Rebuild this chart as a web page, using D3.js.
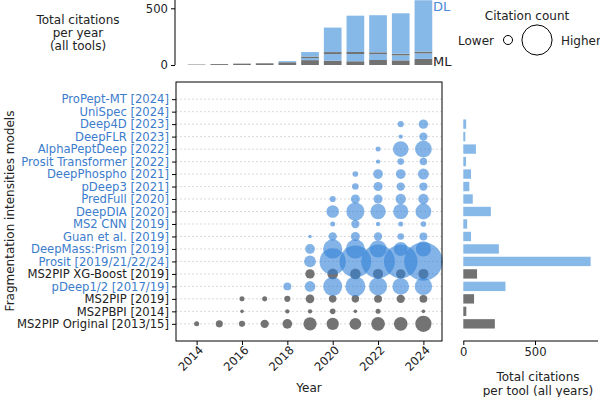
<!DOCTYPE html>
<html><head><meta charset="utf-8">
<script src="https://cdn.jsdelivr.net/npm/d3@7"></script>
<style>body{margin:0;background:#fff}svg{font-family:"DejaVu Sans",sans-serif}</style>
</head><body><svg id="c" width="600" height="397"></svg>
<script>
const years = [2014,2015,2016,2017,2018,2019,2020,2021,2022,2023,2024];
const xTicks = [2014,2016,2018,2020,2022,2024];
// tools listed bottom -> top
const tools = ["MS2PIP Original [2013/15]","MS2PBPI [2014]","MS2PIP [2019]","pDeep1/2 [2017/19]","MS2PIP XG-Boost [2019]","Prosit [2019/21/22/24]","DeepMass:Prism [2019]","Guan et al. [2019]","MS2 CNN [2019]","DeepDIA [2020]","PredFull [2020]","pDeep3 [2021]","DeepPhospho [2021]","Prosit Transformer [2022]","AlphaPeptDeep [2022]","DeepFLR [2023]","Deep4D [2023]","UniSpec [2024]","ProPept-MT [2024]"];
const toolType = ["ML","ML","ML","DL","ML","DL","DL","DL","DL","DL","DL","DL","DL","DL","DL","DL","DL","DL","DL"];
const citations = [
 [4,8,6,11,15,28,24,22,30,30,42],
 [0,0,2,0,3,3,5,2,4,0,2],
 [0,0,4,4,6,12,9,9,10,11,10],
 [0,0,0,0,10,18,58,64,52,44,48],
 [0,0,0,0,0,14,18,18,16,14,16],
 [0,0,0,0,0,22,111,160,180,180,235],
 [0,0,0,0,0,15,59,59,47,31,37],
 [0,0,0,0,0,2,11,13,11,7,10],
 [0,0,0,0,0,0,4,11,3,4,5],
 [0,0,0,0,0,0,25,52,38,37,40],
 [0,0,0,0,0,0,6,13,13,17,17],
 [0,0,0,0,0,0,0,7,13,11,11],
 [0,0,0,0,0,0,0,5,15,15,19],
 [0,0,0,0,0,0,0,0,3,7,9],
 [0,0,0,0,0,0,0,0,4,39,45],
 [0,0,0,0,0,0,0,0,0,3,11],
 [0,0,0,0,0,0,0,0,0,6,14],
 [0,0,0,0,0,0,0,0,0,0,0],
 [0,0,0,0,0,0,0,0,0,0,0]
];
const legendCounts = [13,145];
const topTicks = [0,500];
const rightTicks = [0,500];

const COL = {DL:"rgb(50,130,215)", ML:"#6c6c6c"};
const BAR = {DL:"#86b8e8", ML:"#727272"};
const LBL = {DL:"#3c7ccc", ML:"#222"};
const FS = 11.6, TS = 12;

const svg = d3.select("#c");
const x = d3.scaleLinear().domain([2013.09,2024.82]).range([176,442]);
const y = d3.scaleLinear().domain([-1.375,18+1.375]).range([341,82]);
const r = d3.scaleSqrt().domain([0,235]).range([0,19.2]);
const yTop = d3.scaleLinear().domain([0,500]).range([65,8.3]);
const xR = d3.scaleLinear().domain([0,500]).range([463.3,535]);

// grid
svg.append("g").selectAll("line").data(tools).join("line")
 .attr("x1",176).attr("x2",442).attr("y1",(d,i)=>y(i)).attr("y2",(d,i)=>y(i))
 .attr("stroke","#d0d0d0").attr("stroke-width",0.8).attr("stroke-dasharray","2,2");

// bubbles: ML first then DL
const pts=[];
["ML","DL"].forEach(t=>tools.forEach((tool,i)=>{ if(toolType[i]!==t)return;
 years.forEach((yr,j)=>{ if(citations[i][j]>0) pts.push({i,yr,v:citations[i][j],t}); }); }));
svg.append("g").selectAll("circle").data(pts).join("circle")
 .attr("cx",d=>x(d.yr)).attr("cy",d=>y(d.i)).attr("r",d=>r(d.v))
 .attr("fill",d=>COL[d.t]).attr("fill-opacity",d=>d.t==="DL"?0.6:0.95);

// frame
svg.append("rect").attr("x",176).attr("y",82).attr("width",266).attr("height",259)
 .attr("fill","none").attr("stroke","#000").attr("stroke-width",1);

// y axis
const yAx = svg.append("g").attr("transform","translate(176,0)")
 .call(d3.axisLeft(y).tickValues(d3.range(tools.length)).tickFormat(i=>tools[i]).tickSize(4).tickPadding(3));
yAx.select(".domain").remove();
yAx.selectAll(".tick text").attr("font-size",FS).attr("font-family","DejaVu Sans").attr("fill",(i)=>LBL[toolType[i]]);
yAx.selectAll(".tick line").attr("stroke","#000");

// x axis
const xAx = svg.append("g").attr("transform","translate(0,341)")
 .call(d3.axisBottom(x).tickValues(xTicks).tickFormat(d3.format("d")).tickSize(4));
xAx.select(".domain").remove();
xAx.selectAll(".tick text").attr("font-size",FS).attr("font-family","DejaVu Sans").attr("fill","#222")
 .attr("text-anchor","end").attr("transform","translate(4,7) rotate(-45)").attr("dy","0.35em").attr("y",0).attr("x",0);
svg.append("text").attr("x",309).attr("y",392).attr("text-anchor","middle").attr("font-size",TS).attr("fill","#222").text("Year");
svg.append("text").attr("transform","translate(14,211) rotate(-90)").attr("text-anchor","middle").attr("font-size",TS).attr("fill","#222").text("Fragmentation intensities models");

// top stacked bars (consecutive tools of the same type merged into one segment)
const segs=[];
years.forEach((yr,j)=>{ let acc=0, cur=null; tools.forEach((tool,i)=>{ const v=citations[i][j]; if(v<=0)return;
  if(cur && cur.t===toolType[i]){ cur.y1+=v; } else { cur={yr,y0:acc,y1:acc+v,t:toolType[i]}; segs.push(cur); }
  acc+=v; }); });
svg.append("g").selectAll("rect").data(segs).join("rect")
 .attr("x",d=>x(d.yr-0.39)).attr("width",x(2014.39)-x(2013.61))
 .attr("y",d=>yTop(d.y1)).attr("height",d=>yTop(d.y0)-yTop(d.y1))
 .attr("fill",d=>BAR[d.t]);
const tAx = svg.append("g").attr("transform","translate(175,0)").call(d3.axisLeft(yTop).tickValues(topTicks).tickSize(4).tickPadding(3));
tAx.select(".domain").attr("d","M0,0V65");
tAx.selectAll(".tick text").attr("font-size",FS).attr("font-family","DejaVu Sans").attr("fill","#222");
const lastJ = years.length-1;
const totLast = d3.sum(tools,(t,i)=>citations[i][lastJ]);
const mlLast = d3.sum(tools,(t,i)=>toolType[i]==="ML"?citations[i][lastJ]:0);
svg.append("text").attr("x",433).attr("y",Math.max(yTop(totLast)+10,11)).attr("font-size",13).attr("fill","#4a8ad8").text("DL");
svg.append("text").attr("x",433).attr("y",yTop(mlLast)+9).attr("font-size",13).attr("fill","#222").text("ML");
const tt = svg.append("text").attr("text-anchor","middle").attr("font-size",TS).attr("fill","#222");
["Total citations","per year","(all tools)"].forEach((s,k)=>tt.append("tspan").attr("x",78).attr("y",24+k*13).text(s));

// legend
svg.append("text").attr("x",527).attr("y",20).attr("text-anchor","middle").attr("font-size",TS).attr("fill","#222").text("Citation count");
svg.append("text").attr("x",494).attr("y",45).attr("text-anchor","end").attr("font-size",TS).attr("fill","#222").text("Lower");
svg.append("text").attr("x",561).attr("y",45).attr("font-size",TS).attr("fill","#222").text("Higher");
const lx=[508,537];
svg.append("g").selectAll("circle").data(legendCounts).join("circle")
 .attr("cx",(d,k)=>lx[k]).attr("cy",40).attr("r",d=>r(d)).attr("fill","none").attr("stroke","#000").attr("stroke-width",1);

// right bars
const totals = tools.map((t,i)=>({i,v:d3.sum(citations[i]),t:toolType[i]}));
const bh = (y(0)-y(1))*0.75;
svg.append("g").selectAll("rect").data(totals.filter(d=>d.v>0)).join("rect")
 .attr("x",xR(0)).attr("y",d=>y(d.i)-bh/2).attr("height",bh).attr("width",d=>xR(d.v)-xR(0))
 .attr("fill",d=>BAR[d.t]);
const rAx = svg.append("g").attr("transform","translate(0,341)").call(d3.axisBottom(xR).tickValues(rightTicks).tickSize(4));
rAx.select(".domain").attr("d","M463.3,0H598");
rAx.selectAll(".tick text").attr("font-size",FS).attr("font-family","DejaVu Sans").attr("fill","#222");
const rt = svg.append("text").attr("text-anchor","middle").attr("font-size",TS).attr("fill","#222");
["Total citations","per tool (all years)"].forEach((s,k)=>rt.append("tspan").attr("x",538).attr("y",381+k*14).text(s));
</script></body></html>
